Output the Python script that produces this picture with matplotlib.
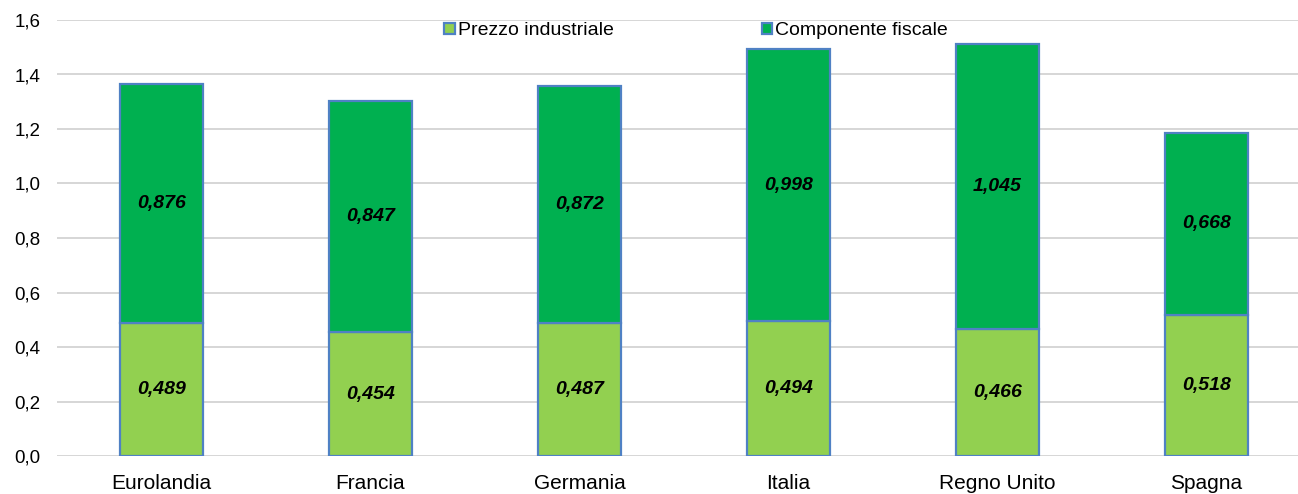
import numpy as np
import matplotlib.pyplot as plt

plt.rcParams['font.family'] = ['Liberation Sans', 'DejaVu Sans']

# prezzi carburante per paese (euro/litro)
paesi = ["Eurolandia", "Francia", "Germania", "Italia", "Regno Unito", "Spagna"]
prezzo_industriale = [0.489, 0.454, 0.487, 0.494, 0.466, 0.518]
componente_fiscale = [0.876, 0.847, 0.872, 0.998, 1.045, 0.668]
y_ticks = [0.0, 0.2, 0.4, 0.6, 0.8, 1.0, 1.2, 1.4, 1.6]


def fmt(v, dec):
    return f"{v:.{dec}f}".replace(".", ",")


def main():
    fig = plt.figure(figsize=(12.98, 4.94), dpi=100)
    ax = fig.add_axes([57 / 1298, 1 - 456 / 494, 1 - 57 / 1298, (456 - 20) / 494])

    x = np.arange(len(paesi))
    w = 0.40
    edge = "#4F81C4"

    ax.bar(x, prezzo_industriale, w, color="#92D050", edgecolor=edge,
           linewidth=1.6, label="Prezzo industriale", zorder=3)
    ax.bar(x, componente_fiscale, w, bottom=prezzo_industriale,
           color="#00B050", edgecolor=edge, linewidth=1.6,
           label="Componente fiscale", zorder=3)

    for i in range(len(paesi)):
        p = prezzo_industriale[i]
        f = componente_fiscale[i]
        ax.text(x[i], p / 2, fmt(p, 3), ha="center", va="center",
                fontsize=14, fontweight="bold", fontstyle="italic", zorder=4)
        ax.text(x[i], p + f / 2, fmt(f, 3), ha="center", va="center",
                fontsize=14, fontweight="bold", fontstyle="italic", zorder=4)

    ax.set_ylim(0, 1.6)
    ax.set_xlim(-0.5, -0.5 + (1298 - 57) / 209)
    ax.set_yticks(y_ticks)
    ax.set_yticklabels([fmt(t, 1) for t in y_ticks], fontsize=13.5)
    ax.set_xticks(x)
    ax.set_xticklabels(paesi, fontsize=15)
    ax.tick_params(axis="both", length=0)
    ax.tick_params(axis="y", pad=12)
    ax.tick_params(axis="x", pad=13)
    ax.grid(axis="y", color="#D0D0D0", linewidth=1.2, zorder=0)
    for s in ax.spines.values():
        s.set_visible(False)

    ax.legend(loc="upper center", bbox_to_anchor=(0.515, 1.035), ncol=2,
              frameon=False, fontsize=14, handlelength=0.55, handleheight=0.55,
              handletextpad=0.15, columnspacing=7.6)

    plt.savefig("out.png", dpi=100)


if __name__ == "__main__":
    main()
